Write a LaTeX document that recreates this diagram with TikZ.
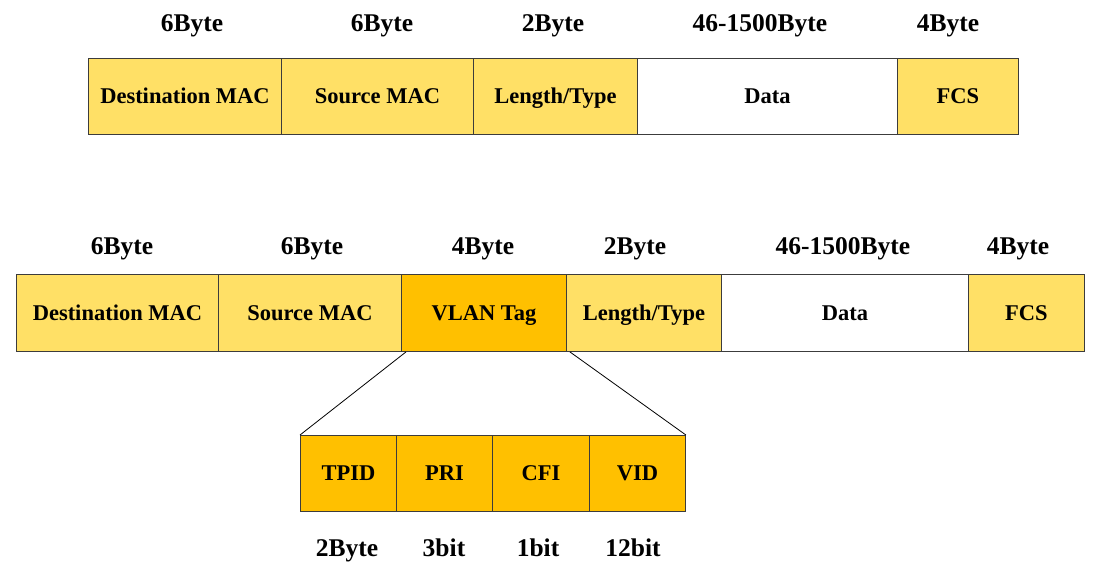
\documentclass[tikz,border=0pt]{standalone}
\usepackage{fontspec}
\setmainfont{Liberation Serif}
\definecolor{lightyel}{RGB}{255,224,102}
\definecolor{vlanor}{RGB}{255,192,0}
\definecolor{edge}{RGB}{60,60,60}
\begin{document}
\begin{tikzpicture}[x=1pt,y=-1pt,
  fld/.style={draw=edge, line width=0.9pt, inner sep=0pt, anchor=north west,
    text height=15pt, text depth=0pt,
    font=\fontsize{22.5}{27}\selectfont\bfseries, fill=lightyel},
  blank/.style={fld, fill=white},
  tagf/.style={fld, fill=vlanor},
  lbl/.style={inner sep=0pt, text height=17pt, text depth=0pt,
    font=\fontsize{25.5}{30}\selectfont\bfseries}]
\useasboundingbox (0,0) rectangle (1096,565);
% top frame
\node[fld, minimum width=193, minimum height=76] (dm1) at (88,58) {Destination MAC};
\node[fld, minimum width=192, minimum height=76] (sm1) at (281,58) {Source MAC};
\node[fld, minimum width=164, minimum height=76] (lt1) at (473,58) {Length/Type};
\node[blank, minimum width=260, minimum height=76] (da1) at (637,58) {Data};
\node[fld, minimum width=121, minimum height=76] (fc1) at (897,58) {FCS};
\node[lbl] (l1a) at (192,23) {6Byte};
\node[lbl] (l1b) at (382,23) {6Byte};
\node[lbl] (l1c) at (553,23) {2Byte};
\node[lbl] (l1d) at (760,23) {46-1500Byte};
\node[lbl] (l1e) at (948,23) {4Byte};
% bottom frame
\node[fld, minimum width=202, minimum height=77] (dm2) at (16,274) {Destination MAC};
\node[fld, minimum width=183, minimum height=77] (sm2) at (218,274) {Source MAC};
\node[tagf, minimum width=165, minimum height=77] (vt2) at (401,274) {VLAN Tag};
\node[fld, minimum width=155, minimum height=77] (lt2) at (566,274) {Length/Type};
\node[blank, minimum width=247, minimum height=77] (da2) at (721,274) {Data};
\node[fld, minimum width=116, minimum height=77] (fc2) at (968,274) {FCS};
\node[lbl] (l2a) at (122,246) {6Byte};
\node[lbl] (l2b) at (312,246) {6Byte};
\node[lbl] (l2c) at (483,246) {4Byte};
\node[lbl] (l2d) at (635,246) {2Byte};
\node[lbl] (l2e) at (843,246) {46-1500Byte};
\node[lbl] (l2f) at (1018,246) {4Byte};
% VLAN tag breakdown
\node[tagf, minimum width=96, minimum height=76] (tp) at (300,435) {TPID};
\node[tagf, minimum width=96, minimum height=76] (pr) at (396,435) {PRI};
\node[tagf, minimum width=97, minimum height=76] (cf) at (492,435) {CFI};
\node[tagf, minimum width=96, minimum height=76] (vi) at (589,435) {VID};
\node[lbl] (l3a) at (347,548) {2Byte};
\node[lbl] (l3b) at (444,548) {3bit};
\node[lbl] (l3c) at (538,548) {1bit};
\node[lbl] (l3d) at (633,548) {12bit};
% expansion lines
\draw[line width=0.8pt] ([xshift=5pt]vt2.south west) -- (tp.north west);
\draw[line width=0.8pt] ([xshift=3pt]vt2.south east) -- (vi.north east);
\end{tikzpicture}
\end{document}
